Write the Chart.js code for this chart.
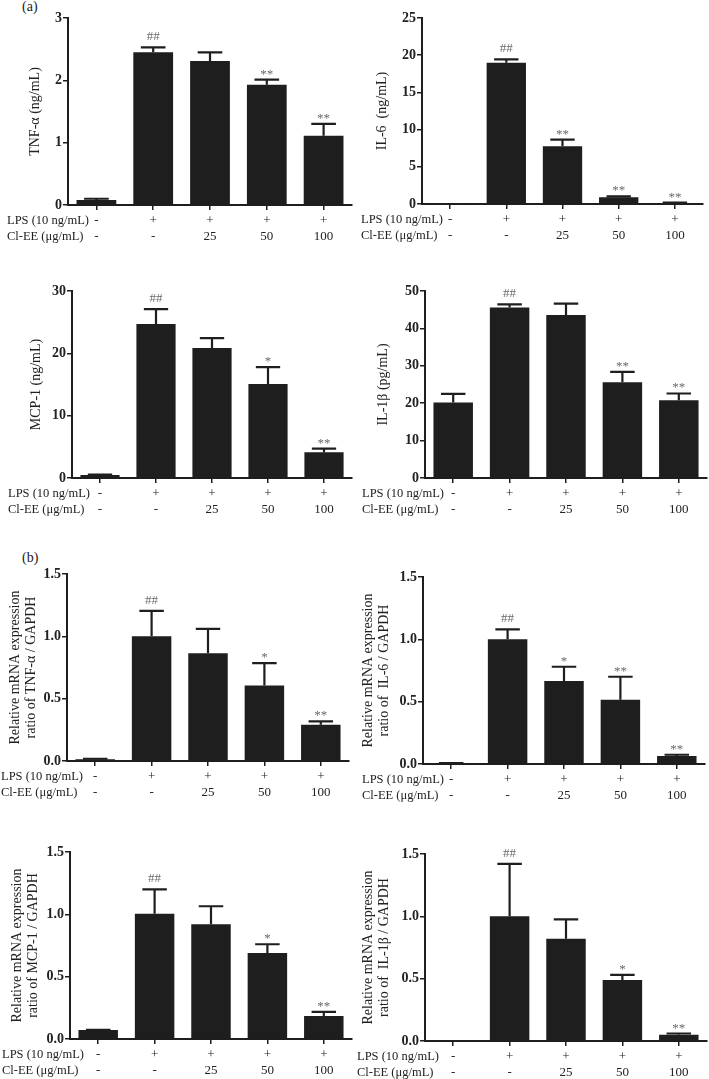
<!DOCTYPE html>
<html>
<head>
<meta charset="utf-8">
<script src="https://cdn.jsdelivr.net/npm/chart.js@4.4.0/dist/chart.umd.min.js"></script>
<style>
  html, body { margin: 0; padding: 0; background: #fff; }
  body { width: 709px; height: 1079px; position: relative; overflow: hidden; font-family: "Liberation Serif", serif; }
  .panel { position: absolute; }
  .tag { position: absolute; font-size: 14px; line-height: 14px; color: #222; }
</style>
</head>
<body>
<div class="tag" style="left:22px;top:0px">(a)</div>
<div class="tag" style="left:22px;top:551px">(b)</div>

<script>
// x-axis rows
const lpsRow = ['-', '+', '+', '+', '+'];
const cleeRow = ['-', '-', '25', '50', '100'];
const rowTitles = ['LPS (10 ng/mL)', 'Cl-EE (\u03bcg/mL)'];

// (a) protein levels
const tnfProtein = [0.08, 2.45, 2.31, 1.93, 1.11];
const tnfProteinErr = [0.02, 0.08, 0.14, 0.08, 0.19];
const tnfProteinSig = ['', '##', '', '**', '**'];

const il6Protein = [0.02, 19.0, 7.75, 0.9, 0.15];
const il6ProteinErr = [0, 0.45, 0.9, 0.13, 0.05];
const il6ProteinSig = ['', '##', '**', '**', '**'];

const mcpProtein = [0.5, 24.7, 20.85, 15.1, 4.15];
const mcpProteinErr = [0.05, 2.4, 1.6, 2.7, 0.55];
const mcpProteinSig = ['', '##', '', '*', '**'];

const il1bProtein = [20.2, 45.6, 43.6, 25.6, 20.8];
const il1bProteinErr = [2.3, 0.8, 3.0, 2.8, 1.8];
const il1bProteinSig = ['', '##', '', '**', '**'];

// (b) relative mRNA expression
const tnfMrna = [0.015, 1.0, 0.865, 0.605, 0.29];
const tnfMrnaErr = [0.003, 0.205, 0.195, 0.18, 0.028];
const tnfMrnaSig = ['', '##', '', '*', '**'];

const il6Mrna = [0.005, 1.0, 0.665, 0.515, 0.064];
const il6MrnaErr = [0.002, 0.08, 0.115, 0.185, 0.01];
const il6MrnaSig = ['', '##', '*', '**', '**'];

const mcpMrna = [0.072, 1.005, 0.92, 0.69, 0.185];
const mcpMrnaErr = [0.002, 0.195, 0.145, 0.07, 0.032];
const mcpMrnaSig = ['', '##', '', '*', '**'];

const il1bMrna = [0, 1.0, 0.82, 0.49, 0.05];
const il1bMrnaErr = [0, 0.42, 0.155, 0.04, 0.01];
const il1bMrnaSig = ['', '##', '', '*', '**'];

// y axes: max, step
const yMaxes = [3, 25, 30, 50, 1.5, 1.5, 1.5, 1.5];
const ySteps = [1, 5, 10, 10, 0.5, 0.5, 0.5, 0.5];

const yTitles = [
    'TNF-\u03b1 (ng/mL)',
    'IL-6  (ng/mL)',
    'MCP-1 (ng/mL)',
    'IL-1\u03b2 (pg/mL)',
    ['Relative mRNA expression', 'ratio of TNF-\u03b1 / GAPDH'],
    ['Relative mRNA expression', 'ratio of  IL-6 / GAPDH'],
    ['Relative mRNA expression', 'ratio of MCP-1 / GAPDH'],
    ['Relative mRNA expression', 'ratio of  IL-1\u03b2 / GAPDH']
];

const series = [
    [tnfProtein, tnfProteinErr, tnfProteinSig],
    [il6Protein, il6ProteinErr, il6ProteinSig],
    [mcpProtein, mcpProteinErr, mcpProteinSig],
    [il1bProtein, il1bProteinErr, il1bProteinSig],
    [tnfMrna, tnfMrnaErr, tnfMrnaSig],
    [il6Mrna, il6MrnaErr, il6MrnaSig],
    [mcpMrna, mcpMrnaErr, mcpMrnaSig],
    [il1bMrna, il1bMrnaErr, il1bMrnaSig]
];

// panel placement
const panels = [
    { left: 0,   top: 0,   w: 354, h: 270, axisX: 68, areaTop: 18, areaBottom: 205, areaRight: 352, titleX: 35, rowX: 7 },
    { left: 355, top: 0,   w: 354, h: 270, axisX: 67, areaTop: 18, areaBottom: 204, areaRight: 348, titleX: 27, rowX: 6 },
    { left: 0,   top: 270, w: 354, h: 270, axisX: 72, areaTop: 21, areaBottom: 208, areaRight: 352, titleX: 36, rowX: 8 },
    { left: 355, top: 270, w: 354, h: 270, axisX: 70, areaTop: 21, areaBottom: 208, areaRight: 352, titleX: 28, rowX: 7 },
    { left: 0,   top: 540, w: 354, h: 270, axisX: 67, areaTop: 34, areaBottom: 221, areaRight: 349, titleX: 15, rowX: 1 },
    { left: 355, top: 540, w: 354, h: 270, axisX: 68, areaTop: 37, areaBottom: 224, areaRight: 350, titleX: 13, rowX: 7 },
    { left: 0,   top: 810, w: 354, h: 269, axisX: 70, areaTop: 42, areaBottom: 229, areaRight: 352, titleX: 17, rowX: 2 },
    { left: 355, top: 810, w: 354, h: 269, axisX: 70, areaTop: 44, areaBottom: 231, areaRight: 352, titleX: 13, rowX: 2 }
];

const ink = '#1e1e1e';
const serif = '"Liberation Serif", "Times New Roman", serif';
const tickLen = 5, tickPad = 3, rowLine = 16;

// error bars, significance marks and row captions
const extras = {
    id: 'extras',
    afterDatasetsDraw(chart) {
        const ctx = chart.ctx;
        const y = chart.scales.y;
        const ds = chart.data.datasets[0];
        const meta = chart.getDatasetMeta(0);
        ctx.save();
        meta.data.forEach((bar, i) => {
            const v = ds.data[i];
            const e = ds.errors[i];
            const yTop = y.getPixelForValue(v + e);
            const cap = bar.width * 0.62;
            if (e > 0) {
                ctx.strokeStyle = ink;
                ctx.lineWidth = 2.2;
                ctx.beginPath();
                ctx.moveTo(bar.x, bar.y);
                ctx.lineTo(bar.x, yTop);
                ctx.moveTo(bar.x - cap / 2, yTop);
                ctx.lineTo(bar.x + cap / 2, yTop);
                ctx.stroke();
            }
            const s = ds.sig[i];
            if (s) {
                ctx.fillStyle = '#6a6a6a';
                ctx.font = '13px ' + serif;
                ctx.textAlign = 'center';
                ctx.textBaseline = 'alphabetic';
                const off = s[0] === '#' ? 5 : 0;
                ctx.fillText(s, bar.x, yTop - 2 - off);
            }
        });
        // row captions to the left of the x tick labels
        const row0 = chart.chartArea.bottom + tickLen + tickPad + rowLine / 2;
        ctx.fillStyle = '#222';
        ctx.font = '12.5px ' + serif;
        ctx.textAlign = 'left';
        ctx.textBaseline = 'middle';
        rowTitles.forEach((t, k) => ctx.fillText(t, chart.options.rowX, row0 + k * rowLine));
        ctx.restore();
    }
};

panels.forEach((p, n) => {
    const div = document.createElement('div');
    div.className = 'panel';
    div.style.left = p.left + 'px';
    div.style.top = p.top + 'px';
    const canvas = document.createElement('canvas');
    canvas.width = p.w;
    canvas.height = p.h;
    div.appendChild(canvas);
    document.body.appendChild(div);

    const [vals, errs, sigs] = series[n];
    const decimals = ySteps[n] < 1 ? 1 : 0;

    new Chart(canvas.getContext('2d'), {
        type: 'bar',
        data: {
            labels: lpsRow.map((l, i) => [l, cleeRow[i]]),
            datasets: [{
                data: vals,
                errors: errs,
                sig: sigs,
                backgroundColor: ink,
                borderWidth: 0,
                barPercentage: 0.7,
                categoryPercentage: 1.0
            }]
        },
        options: {
            responsive: false,
            animation: false,
            events: [],
            rowX: p.rowX,
            layout: { padding: { left: 0, top: p.areaTop, right: p.w - p.areaRight, bottom: 0 } },
            plugins: { legend: { display: false }, tooltip: { enabled: false } },
            scales: {
                x: {
                    afterFit(scale) { scale.height = p.h - p.areaBottom; },
                    grid: { display: true, drawOnChartArea: false, drawTicks: true, tickLength: tickLen, offset: false, color: ink, lineWidth: 1.5 },
                    border: { display: true, color: ink, width: 2 },
                    ticks: { color: '#222', padding: tickPad, maxRotation: 0, autoSkip: false, font: { family: serif, size: 13, lineHeight: rowLine / 13 } }
                },
                y: {
                    min: 0,
                    max: yMaxes[n],
                    afterFit(scale) { scale.width = p.axisX; },
                    grid: { drawOnChartArea: false, drawTicks: true, tickLength: tickLen, color: ink, lineWidth: 1.5 },
                    border: { display: true, color: ink, width: 2 },
                    ticks: {
                        stepSize: ySteps[n],
                        padding: 1,
                        color: '#222',
                        font: { family: serif, size: 14, weight: 'bold' },
                        callback: v => Number(v).toFixed(decimals)
                    },
                    title: {
                        display: true,
                        text: yTitles[n],
                        color: '#222',
                        font: { family: serif, size: 14, lineHeight: 1.2 },
                        padding: { top: p.titleX - 8.4, bottom: 0 }
                    }
                }
            }
        },
        plugins: [extras]
    });
});
</script>
</body>
</html>
